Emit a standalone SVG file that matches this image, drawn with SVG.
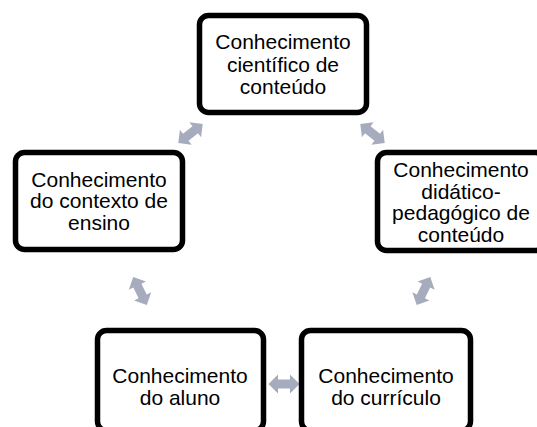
<svg xmlns="http://www.w3.org/2000/svg" width="537" height="427" viewBox="0 0 537 427">
<defs>
<style>
.box{fill:#fff;stroke:#000;stroke-width:5.5}
.t{font-family:"Liberation Sans",Arial,sans-serif;font-size:21px;fill:#000;text-anchor:middle}
.arr{fill:#A6ACBD}
</style>
<path id="dbl" d="M-15.5,0 L-6,-9.5 L-6,-4.5 L6,-4.5 L6,-9.5 L15.5,0 L6,9.5 L6,4.5 L-6,4.5 L-6,9.5 Z"/>
</defs>
<rect width="537" height="427" fill="#fff"/>
<g id="connectors" class="arr">
<use href="#dbl" transform="translate(190.5,133.5) rotate(-38)"/>
<use href="#dbl" transform="translate(372.5,133.5) rotate(38)"/>
<use href="#dbl" transform="translate(423.5,291) rotate(-64)"/>
<use href="#dbl" transform="translate(140,291) rotate(64)"/>
<use href="#dbl" transform="translate(284,384)"/>
</g>
<g id="node-cientifico">
<rect class="box" x="199.5" y="15.5" width="167" height="97" rx="9"/>
<text class="t"><tspan x="283" y="49">Conhecimento</tspan><tspan x="283" y="71.5">científico de</tspan><tspan x="283" y="94">conteúdo</tspan></text>
</g>
<g id="node-didatico">
<rect class="box" x="377.5" y="152.5" width="167" height="98" rx="9"/>
<text class="t"><tspan x="461" y="177">Conhecimento</tspan><tspan x="461" y="198.5">didático-</tspan><tspan x="461" y="220">pedagógico de</tspan><tspan x="461" y="242">conteúdo</tspan></text>
</g>
<g id="node-contexto">
<rect class="box" x="15.5" y="152.5" width="167" height="97" rx="9"/>
<text class="t"><tspan x="99" y="186.5">Conhecimento</tspan><tspan x="99" y="208">do contexto de</tspan><tspan x="99" y="229.5">ensino</tspan></text>
</g>
<g id="node-aluno">
<rect class="box" x="97.5" y="330.5" width="166" height="100" rx="9"/>
<text class="t"><tspan x="180" y="383">Conhecimento</tspan><tspan x="180" y="405">do aluno</tspan></text>
</g>
<g id="node-curriculo">
<rect class="box" x="301.5" y="330.5" width="169" height="100" rx="9"/>
<text class="t"><tspan x="386" y="383">Conhecimento</tspan><tspan x="386" y="405">do currículo</tspan></text>
</g>
</svg>
